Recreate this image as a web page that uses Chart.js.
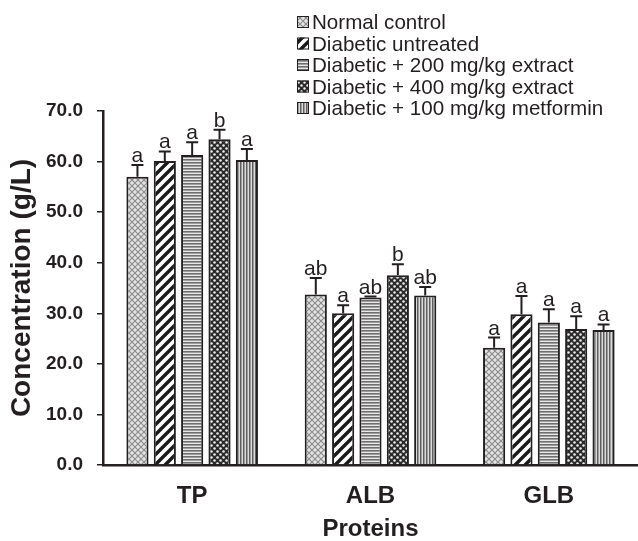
<!DOCTYPE html>
<html>
<head>
<meta charset="utf-8">
<script src="https://cdn.jsdelivr.net/npm/chart.js@4.4.0/dist/chart.umd.min.js"></script>
<style>
  html, body { margin: 0; padding: 0; background: #fff; }
  #wrap { width: 638px; height: 541px; }
</style>
</head>
<body>
<div id="wrap"><canvas id="chart-proteins"></canvas></div>
<script>
const categories = ["TP", "ALB", "GLB"];
const groupNames = [
  "Normal control",
  "Diabetic untreated",
  "Diabetic + 200 mg/kg extract",
  "Diabetic + 400 mg/kg extract",
  "Diabetic + 100 mg/kg metformin"
];

const normalControl = [57.0, 33.7, 23.2];
const diabeticUntreated = [60.1, 30.0, 29.8];
const extract200 = [61.3, 33.1, 28.2];
const extract400 = [64.4, 37.5, 26.9];
const metformin100 = [60.3, 33.5, 26.7];

const normalControlErr = [2.3, 3.3, 2.0];
const diabeticUntreatedErr = [1.9, 1.6, 3.6];
const extract200Err = [2.5, 0.2, 2.6];
const extract400Err = [1.9, 2.2, 2.5];
const metformin100Err = [2.2, 1.7, 1.1];

const normalControlSig = ["a", "ab", "a"];
const diabeticUntreatedSig = ["a", "a", "a"];
const extract200Sig = ["a", "ab", "a"];
const extract400Sig = ["b", "b", "a"];
const metformin100Sig = ["a", "ab", "a"];

const yTicks = [0, 10, 20, 30, 40, 50, 60, 70];

const ink = "#231f20";
const sans = "'Liberation Sans', Arial, sans-serif";

// fill patterns drawn on small tiles
function tile(w, h, draw) {
  const c = document.createElement("canvas");
  c.width = w;
  c.height = h;
  const g = c.getContext("2d");
  draw(g, w, h);
  return g.createPattern(c, "repeat");
}

const patterns = [
  tile(6, 6, (g, w, h) => {
    g.fillStyle = "#e4e4e4";
    g.fillRect(0, 0, w, h);
    g.strokeStyle = "#8c8c8c";
    g.lineWidth = 1.2;
    g.beginPath();
    g.moveTo(0, 0); g.lineTo(w, h);
    g.moveTo(w, 0); g.lineTo(0, h);
    g.stroke();
  }),
  tile(10, 10, (g, w, h) => {
    g.fillStyle = "#ffffff";
    g.fillRect(0, 0, w, h);
    g.strokeStyle = "#1a1a1a";
    g.lineWidth = 3.4;
    g.beginPath();
    g.moveTo(-w, 2 * h); g.lineTo(2 * w, -h);
    g.moveTo(-w, h); g.lineTo(w, -h);
    g.moveTo(0, 2 * h); g.lineTo(2 * w, 0);
    g.stroke();
  }),
  tile(4, 3, (g, w, h) => {
    g.fillStyle = "#e8e8e8";
    g.fillRect(0, 0, w, h);
    g.fillStyle = "#6e6e6e";
    g.fillRect(0, 0, w, 1.6);
  }),
  tile(6, 6, (g, w, h) => {
    g.fillStyle = "#2a2a2a";
    g.fillRect(0, 0, w, h);
    g.fillStyle = "#f0f0f0";
    [[1.5, 1.5], [4.5, 4.5]].forEach(([x, y]) => {
      g.beginPath();
      g.arc(x, y, 1.25, 0, Math.PI * 2);
      g.fill();
    });
  }),
  tile(3, 4, (g, w, h) => {
    g.fillStyle = "#dcdcdc";
    g.fillRect(0, 0, w, h);
    g.fillStyle = "#5e5e5e";
    g.fillRect(0, 0, 1.5, h);
  })
];

const values = [normalControl, diabeticUntreated, extract200, extract400, metformin100];
const errors = [normalControlErr, diabeticUntreatedErr, extract200Err, extract400Err, metformin100Err];
const letters = [normalControlSig, diabeticUntreatedSig, extract200Sig, extract400Sig, metformin100Sig];

const errorBars = {
  id: "errorBars",
  afterDatasetsDraw(chart) {
    const ctx = chart.ctx;
    const y = chart.scales.y;
    ctx.save();
    chart.data.datasets.forEach((ds, i) => {
      const meta = chart.getDatasetMeta(i);
      meta.data.forEach((bar, j) => {
        const top = y.getPixelForValue(ds.data[j] + errors[i][j]);
        ctx.strokeStyle = ink;
        ctx.lineWidth = 2;
        ctx.beginPath();
        ctx.moveTo(bar.x, bar.y);
        ctx.lineTo(bar.x, top);
        ctx.moveTo(bar.x - 6, top);
        ctx.lineTo(bar.x + 6, top);
        ctx.stroke();
        ctx.fillStyle = ink;
        ctx.font = "21px " + sans;
        ctx.textAlign = "center";
        ctx.textBaseline = "alphabetic";
        ctx.fillText(letters[i][j], bar.x, top - 3);
      });
    });
    ctx.restore();
  }
};

const sideLegend = {
  id: "sideLegend",
  afterDraw(chart) {
    const ctx = chart.ctx;
    ctx.save();
    ctx.font = "20.6px " + sans;
    ctx.textAlign = "left";
    ctx.textBaseline = "alphabetic";
    chart.data.datasets.forEach((ds, i) => {
      const base = 29 + i * 21.5;
      ctx.fillStyle = ds.backgroundColor;
      ctx.fillRect(297, base - 13, 12, 12);
      ctx.strokeStyle = ink;
      ctx.lineWidth = 1;
      ctx.strokeRect(297.5, base - 12.5, 11, 11);
      ctx.fillStyle = ink;
      ctx.fillText(ds.label, 312, base);
    });
    ctx.restore();
  }
};

const proteins = document.getElementById("chart-proteins");

new Chart(proteins, {
  type: "bar",
  data: {
    labels: categories,
    datasets: groupNames.map((name, i) => ({
      label: name,
      data: values[i],
      backgroundColor: patterns[i],
      borderColor: ink,
      borderWidth: 2,
      categoryPercentage: 0.767,
      barPercentage: 0.81
    }))
  },
  options: {
    responsive: true,
    maintainAspectRatio: false,
    animation: false,
    layout: {
      padding: { top: 111, right: 0, bottom: 0, left: 0 }
    },
    plugins: {
      legend: { display: false },
      tooltip: { enabled: false }
    },
    scales: {
      x: {
        afterFit(scale) { scale.height = 76; },
        grid: { display: true, drawOnChartArea: false, drawTicks: false },
        border: { display: true, width: 2.5, color: ink },
        ticks: {
          color: ink,
          padding: 17,
          font: { family: sans, size: 24, weight: "bold" }
        },
        title: {
          display: true,
          text: "Proteins",
          color: ink,
          padding: 0,
          font: { family: sans, size: 24, weight: "bold", lineHeight: 1 }
        }
      },
      y: {
        min: 0,
        max: 70,
        afterFit(scale) { scale.width = 103; },
        afterBuildTicks(scale) { scale.ticks = yTicks.map(v => ({ value: v })); },
        grid: { display: true, drawOnChartArea: false, drawTicks: true, tickLength: 6, color: ink, lineWidth: 1.5 },
        border: { display: true, width: 2.5, color: ink },
        ticks: {
          color: ink,
          padding: 14,
          callback: v => v.toFixed(1),
          font: { family: sans, size: 19, weight: "bold" }
        },
        title: {
          display: true,
          text: "Concentration (g/L)",
          color: ink,
          padding: { top: 8, bottom: 0 },
          font: { family: sans, size: 28, weight: "bold", lineHeight: 1 }
        }
      }
    }
  },
  plugins: [errorBars, sideLegend]
});
</script>
</body>
</html>
